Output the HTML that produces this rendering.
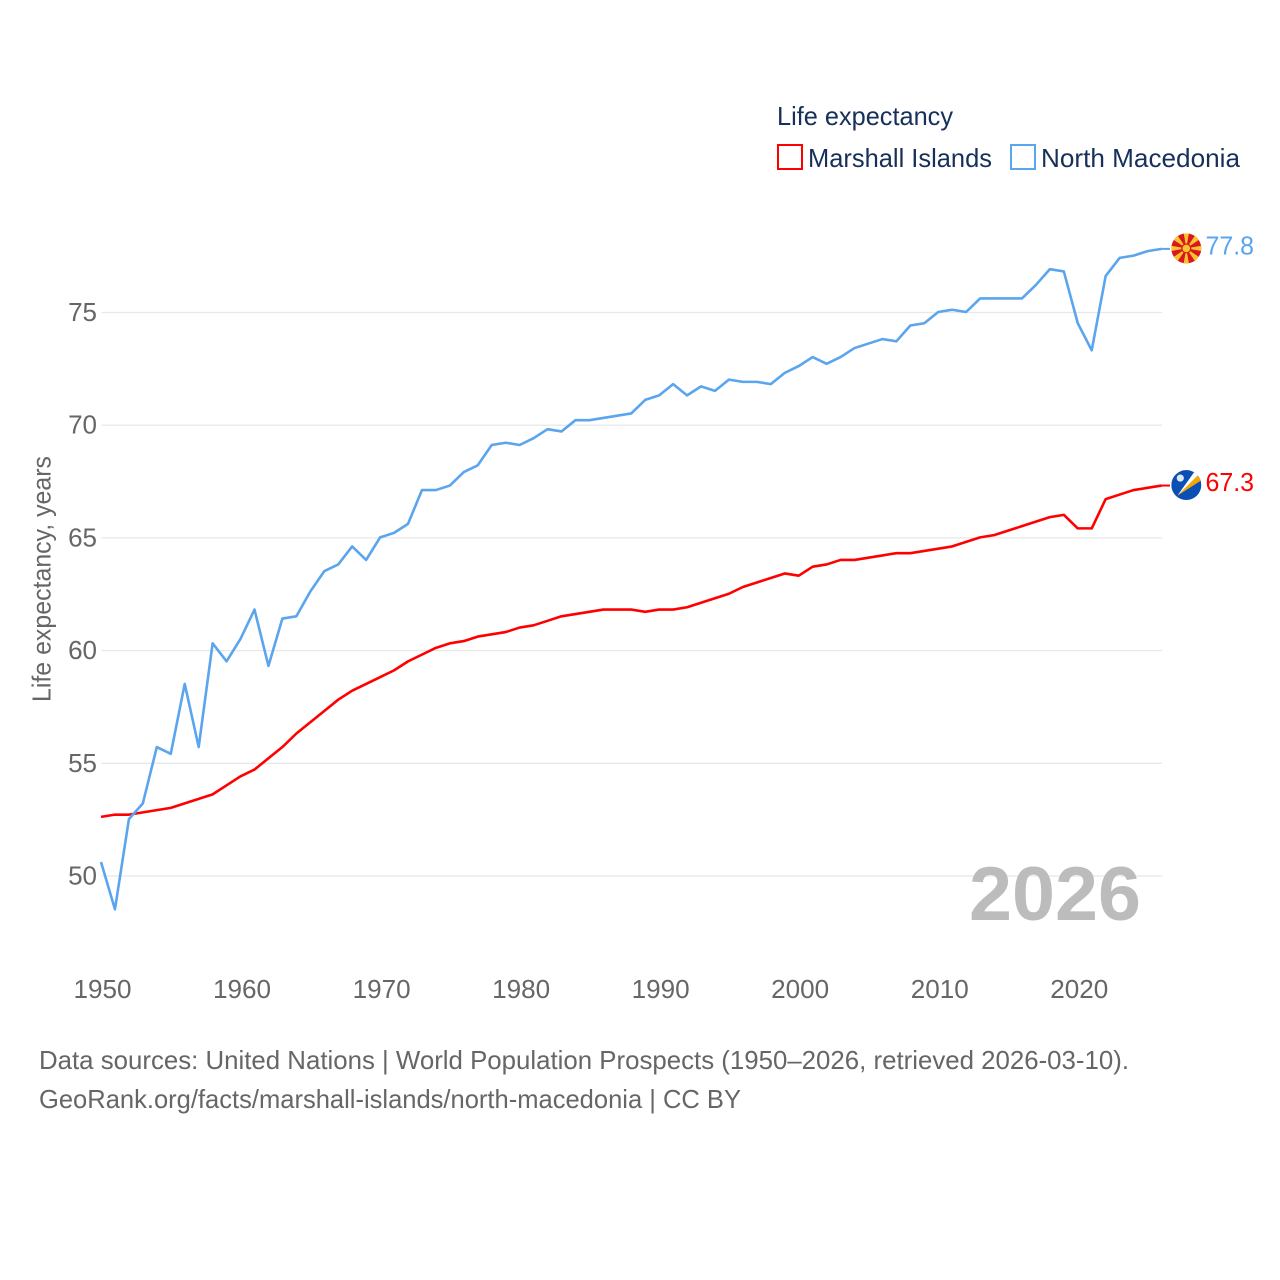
<!DOCTYPE html>
<html lang="en">
<head>
<meta charset="utf-8">
<title>Life expectancy: Marshall Islands and North Macedonia</title>
<style>
html,body{margin:0;padding:0;background:#fff;width:1280px;height:1280px;overflow:hidden}
svg{display:block}
text{font-family:"Liberation Sans",sans-serif;font-size:26px}
</style>
</head>
<body>
<svg id="chart" xmlns="http://www.w3.org/2000/svg" width="1280" height="1280" viewBox="0 0 1280 1280">
  <g id="grid"></g>
  <g id="yticks"></g>
  <g id="xticks"></g>
  <text transform="translate(50.5,702) rotate(-90)" fill="#666" textLength="246" lengthAdjust="spacingAndGlyphs">Life expectancy, years</text>
  <text x="969" y="920" fill="#bcbcbc" style="font-size:76px;font-weight:bold" textLength="172" lengthAdjust="spacingAndGlyphs">2026</text>
  <g id="series"></g>
  <g id="ends"></g>

  <g>
    <text x="777" y="125" fill="#16305a" textLength="176" lengthAdjust="spacingAndGlyphs">Life expectancy</text>
    <rect x="778" y="145" width="24" height="24" fill="#fff" stroke="#ff0000" stroke-width="2"></rect>
    <text x="808" y="167" fill="#16305a" textLength="184" lengthAdjust="spacingAndGlyphs">Marshall Islands</text>
    <rect x="1011" y="145" width="24" height="24" fill="#fff" stroke="#5aa5ee" stroke-width="2"></rect>
    <text x="1041" y="167" fill="#16305a" textLength="199" lengthAdjust="spacingAndGlyphs">North Macedonia</text>
  </g>

  <g>
    <text x="39" y="1069" fill="#666" textLength="1090" lengthAdjust="spacingAndGlyphs">Data sources: United Nations | World Population Prospects (1950–2026, retrieved 2026-03-10).</text>
    <text x="39" y="1108" fill="#666" textLength="702" lengthAdjust="spacingAndGlyphs">GeoRank.org/facts/marshall-islands/north-macedonia | CC BY</text>
  </g>

  <defs>
    <clipPath id="flag-clip"><circle cx="0" cy="0" r="15"></circle></clipPath>
  </defs>
  <g id="flag-mk">
    <g clip-path="url(#flag-clip)">
      <rect x="-15" y="-15" width="30" height="30" fill="#d8171f"></rect>
      <g fill="#f9c22e">
        <polygon points="-2.6,-15 2.6,-15 0,0"></polygon>
        <polygon points="-2.6,15 2.6,15 0,0"></polygon>
        <polygon points="-15,-2.6 -15,2.6 0,0"></polygon>
        <polygon points="15,-2.6 15,2.6 0,0"></polygon>
        <polygon points="-14,-9.5 -9.5,-14 0,0"></polygon>
        <polygon points="14,-9.5 9.5,-14 0,0"></polygon>
        <polygon points="-14,9.5 -9.5,14 0,0"></polygon>
        <polygon points="14,9.5 9.5,14 0,0"></polygon>
      </g>
      <circle cx="0" cy="0" r="5" fill="#d8171f"></circle>
      <circle cx="0" cy="0" r="3.8" fill="#f9c22e"></circle>
    </g>
  </g>
  <g id="flag-mh">
    <g clip-path="url(#flag-clip)">
      <rect x="-15" y="-15" width="30" height="30" fill="#0a50b4"></rect>
      <polygon points="-9,10.7 13,-11 14,-4" fill="#f7a600"></polygon>
      <polygon points="-9,10.7 8,-13 13,-11" fill="#ffffff"></polygon>
      <circle cx="-6" cy="-7" r="3.6" fill="#dfe8f5"></circle>
    </g>
  </g>
</svg>
<script>
var years = [1950,1951,1952,1953,1954,1955,1956,1957,1958,1959,1960,1961,1962,1963,1964,1965,1966,1967,1968,1969,1970,1971,1972,1973,1974,1975,1976,1977,1978,1979,1980,1981,1982,1983,1984,1985,1986,1987,1988,1989,1990,1991,1992,1993,1994,1995,1996,1997,1998,1999,2000,2001,2002,2003,2004,2005,2006,2007,2008,2009,2010,2011,2012,2013,2014,2015,2016,2017,2018,2019,2020,2021,2022,2023,2024,2025,2026];
var marshallIslands = [52.6,52.7,52.7,52.8,52.9,53.0,53.2,53.4,53.6,54.0,54.4,54.7,55.2,55.7,56.3,56.8,57.3,57.8,58.2,58.5,58.8,59.1,59.5,59.8,60.1,60.3,60.4,60.6,60.7,60.8,61.0,61.1,61.3,61.5,61.6,61.7,61.8,61.8,61.8,61.7,61.8,61.8,61.9,62.1,62.3,62.5,62.8,63.0,63.2,63.4,63.3,63.7,63.8,64.0,64.0,64.1,64.2,64.3,64.3,64.4,64.5,64.6,64.8,65.0,65.1,65.3,65.5,65.7,65.9,66.0,65.4,65.4,66.7,66.9,67.1,67.2,67.3];
var northMacedonia = [50.6,48.5,52.5,53.2,55.7,55.4,58.5,55.7,60.3,59.5,60.5,61.8,59.3,61.4,61.5,62.6,63.5,63.8,64.6,64.0,65.0,65.2,65.6,67.1,67.1,67.3,67.9,68.2,69.1,69.2,69.1,69.4,69.8,69.7,70.2,70.2,70.3,70.4,70.5,71.1,71.3,71.8,71.3,71.7,71.5,72.0,71.9,71.9,71.8,72.3,72.6,73.0,72.7,73.0,73.4,73.6,73.8,73.7,74.4,74.5,75.0,75.1,75.0,75.6,75.6,75.6,75.6,76.2,76.9,76.8,74.5,73.3,76.6,77.4,77.5,77.7,77.8];
var yTickLabels = [50,55,60,65,70,75];
var xTickLabels = [1950,1960,1970,1980,1990,2000,2010,2020];

var NS = 'http://www.w3.org/2000/svg';
function xScale(year) { return 101 + (year - 1950) * (1161.5 - 101) / 76; }
function yScale(value) { return 875.5 - (value - 50) * (875.5 - 312) / 25; }
function make(tag, attrs, parent, text) {
  var el = document.createElementNS(NS, tag);
  for (var k in attrs) { el.setAttribute(k, attrs[k]); }
  if (text !== undefined) { el.textContent = text; }
  parent.appendChild(el);
  return el;
}
function byId(id) { return document.getElementById(id); }

yTickLabels.forEach(function (t) {
  var line = make('line', { x1: 101.5, x2: 1162, y1: yScale(t) + 0.5, y2: yScale(t) + 0.5, stroke: '#e8e8e8', 'stroke-width': 1.3 }, byId('grid'));
  
  
  var label = make('text', { x: 97, y: yScale(t) + 9, fill: '#666', 'text-anchor': 'end' }, byId('yticks'), String(t));
  
  
});

xTickLabels.forEach(function (t) {
  var label = make('text', { x: xScale(t) + 1.5, y: 998, fill: '#666', 'text-anchor': 'middle', textLength: 58, lengthAdjust: 'spacingAndGlyphs' }, byId('xticks'), String(t));
  
  
});

function drawSeries(values, color, slug, flagId) {
  var pts = values.map(function (v, i) { return xScale(years[i]).toFixed(2) + ',' + yScale(v).toFixed(2); });
  var line = make('polyline', { points: pts.join(' '), fill: 'none', stroke: color, 'stroke-width': 2.6, 'stroke-linejoin': 'round' }, byId('series'));
  
  
  var last = values[values.length - 1];
  var yEnd = yScale(last);
  var connector = make('line', { x1: xScale(years[years.length - 1]), x2: 1170, y1: yEnd, y2: yEnd, stroke: color, 'stroke-width': 2 }, byId('ends'));
  
  
  var value = make('text', { x: 1205.5, y: yEnd + 5.5, fill: color, textLength: 48.5, lengthAdjust: 'spacingAndGlyphs' }, byId('ends'), last.toFixed(1));
  
  
  byId(flagId).setAttribute('transform', 'translate(1186.3,' + (yEnd - 0.5).toFixed(2) + ')');
}
drawSeries(marshallIslands, '#ff0000', 'marshall-islands', 'flag-mh');
drawSeries(northMacedonia, '#5aa5ee', 'north-macedonia', 'flag-mk');
</script>
</body>
</html>
